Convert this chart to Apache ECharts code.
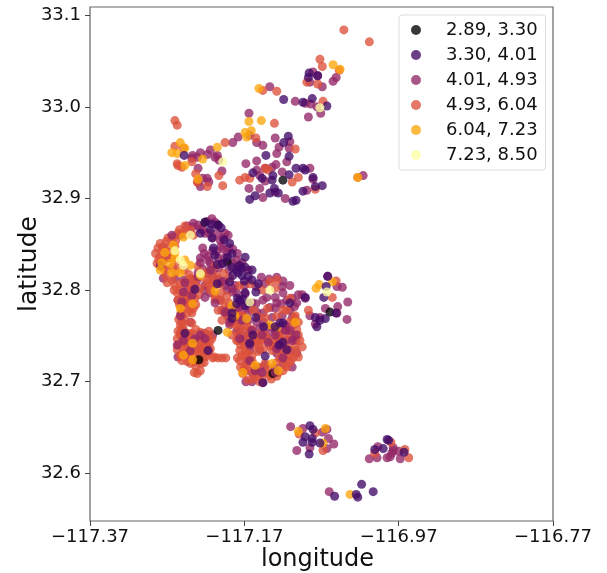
<!DOCTYPE html>
<html><head><meta charset="utf-8">
<script src="https://cdn.jsdelivr.net/npm/echarts@6/dist/echarts.min.js"></script>
<style>html,body{margin:0;padding:0;background:#fff}#c{width:607px;height:573px}</style></head>
<body><div id="c"></div>
<script>
const binLabels = ['2.89, 3.30','3.30, 4.01','4.01, 4.93','4.93, 6.04','6.04, 7.23','7.23, 8.50'];
const binColors = ['#000004','#420a68','#932667','#dd513a','#fca50a','#fcffa4'];
const binLayers = [4,7,2,3,6,8];
const xTicks = [-117.37,-117.17,-116.97,-116.77];
const yTicks = [32.6,32.7,32.8,32.9,33.0,33.1];

const bin0 = [[-117.221,32.874],[-117.204,32.871],[-117.192,32.831],[-117.059,32.776],[-117.204,32.756],[-117.133,32.709],[-117.229,32.724],[-117.120,32.920]];

const bin1 = [[-117.119,33.008],[-117.082,33.009],[-117.094,33.005],[-117.063,33.001],[-117.086,33.037],[-117.087,33.032],[-117.075,33.034],[-117.248,32.947],[-117.113,32.968],[-117.119,32.961],[-117.142,32.947],[-117.112,32.946],[-117.159,32.928],[-117.147,32.922],[-117.133,32.925],[-117.134,32.920],[-117.103,32.933],[-117.094,32.933],[-117.091,32.931],[-117.081,32.923],[-117.069,32.914],[-117.078,32.913],[-117.156,32.903],[-117.163,32.899],[-117.131,32.911],[-117.137,32.906],[-117.126,32.906],[-117.094,32.908],[-117.103,32.898],[-117.107,32.897],[-117.112,32.926],
[-117.085,32.652],[-117.091,32.640],[-117.094,32.634],[-117.082,32.638],[-117.082,32.634],[-117.086,32.621],[-117.072,32.633],[-117.081,32.648],[-116.985,32.637],[-116.983,32.636],[-117.001,32.626],[-116.990,32.627],[-116.963,32.623],[-117.018,32.588],[-117.053,32.575],[-117.025,32.577],[-117.023,32.574],[-117.003,32.580],
[-117.064,32.804],[-117.067,32.792],[-117.051,32.775],[-117.065,32.769],[-117.076,32.760],[-117.078,32.770],[-117.072,32.767],[-117.091,32.792],[-117.062,32.815],
[-117.204,32.871],[-117.214,32.866],[-117.227,32.862],[-117.212,32.857],[-117.221,32.874],[-117.189,32.851],[-117.208,32.838],[-117.192,32.836],[-117.198,32.829],[-117.186,32.825],[-117.176,32.827],[-117.169,32.825],[-117.178,32.819],[-117.173,32.816],[-117.185,32.816],[-117.189,32.809],[-117.160,32.811],[-117.152,32.807],[-117.205,32.807],[-117.234,32.801],[-117.247,32.753],[-117.179,32.791],[-117.176,32.789],[-117.169,32.797],[-117.169,32.783],[-117.186,32.775],[-117.111,32.786],[-117.120,32.764],[-117.124,32.764],[-117.120,32.743],[-117.159,32.751],[-117.143,32.728],[-117.146,32.699],[-117.217,32.734],[-117.186,32.769],[-117.163,32.742],
[-117.169,32.836],[-117.160,32.822],[-117.165,32.815],[-117.180,32.822],[-117.174,32.824],[-117.170,32.810],[-117.205,32.828],[-117.212,32.872],[-117.200,32.868],[-117.196,32.855],[-117.186,32.840],[-117.210,32.846],[-117.155,32.798],[-117.180,32.785],[-117.172,32.790],[-117.130,32.760],[-117.145,32.760],[-117.165,32.786],[-117.155,32.770],[-117.125,32.740],[-117.115,32.735]];

const bin2 = [[-117.137,33.022],[-117.104,33.006],[-117.091,33.004],[-117.084,33.003],[-117.076,33.000],[-117.071,32.993],[-117.087,32.989],[-117.081,33.038],[-117.069,33.022],[-117.051,33.032],[-117.055,33.028],[-117.075,33.034],[-117.085,33.027],[-117.164,32.993],[-117.185,32.961],[-117.178,32.967],[-117.163,32.969],[-117.154,32.961],[-117.146,32.958],[-117.130,32.966],[-117.111,32.962],[-117.125,32.956],[-117.112,32.955],[-117.128,32.949],[-117.237,32.947],[-117.231,32.945],[-117.227,32.950],[-117.238,32.944],[-117.214,32.953],[-117.218,32.948],[-117.205,32.947],[-117.203,32.942],[-117.208,32.945],[-117.230,32.933],[-117.199,32.930],[-117.224,32.922],[-117.218,32.922],[-117.216,32.918],[-117.227,32.913],[-117.230,32.918],[-117.168,32.938],[-117.154,32.941],[-117.154,32.931],[-117.143,32.933],[-117.134,32.934],[-117.129,32.937],[-117.150,32.925],[-117.143,32.919],[-117.115,32.940],[-117.121,32.929],[-117.085,32.933],[-117.081,32.921],[-117.164,32.911],[-117.150,32.911],[-117.146,32.901],[-117.130,32.907],[-117.117,32.900],[-117.016,32.925],[-117.089,32.909],
[-117.110,32.651],[-117.102,32.625],[-117.085,32.628],[-117.061,32.638],[-117.054,32.632],[-117.094,32.649],[-117.069,32.645],[-117.063,32.648],[-117.008,32.616],[-116.998,32.617],[-116.985,32.617],[-116.981,32.618],[-116.968,32.616],[-116.979,32.622],[-116.970,32.624],[-116.977,32.628],[-116.997,32.629],[-116.977,32.625],[-117.060,32.580],[-117.063,32.627],
[-117.036,32.787],[-117.037,32.768],[-117.049,32.782],[-117.043,32.803],[-117.050,32.804],[-117.065,32.780],[-117.085,32.772],[-117.078,32.763],[-117.072,32.770],[-117.062,32.815],[-117.050,32.775],
[-117.244,32.870],[-117.237,32.869],[-117.227,32.867],[-117.212,32.878],[-117.221,32.862],[-117.211,32.857],[-117.201,32.854],[-117.191,32.860],[-117.195,32.862],[-117.224,32.846],[-117.227,32.835],[-117.217,32.837],[-117.211,32.843],[-117.204,32.835],[-117.192,32.841],[-117.179,32.840],[-117.186,32.830],[-117.199,32.829],[-117.214,32.829],[-117.218,32.818],[-117.211,32.814],[-117.230,32.819],[-117.253,32.860],[-117.275,32.813],[-117.260,32.813],[-117.249,32.811],[-117.237,32.811],[-117.221,32.805],[-117.195,32.805],[-117.185,32.798],[-117.169,32.796],[-117.143,32.807],[-117.121,32.804],[-117.141,32.792],[-117.130,32.792],[-117.146,32.789],[-117.108,32.791],[-117.091,32.791],[-117.102,32.786],[-117.115,32.789],[-117.128,32.814],[-117.176,32.789],[-117.201,32.789],[-117.199,32.778],[-117.192,32.772],[-117.178,32.781],[-117.163,32.780],[-117.173,32.775],[-117.154,32.776],[-117.146,32.775],[-117.137,32.781],[-117.128,32.786],[-117.165,32.767],[-117.178,32.765],[-117.154,32.765],[-117.134,32.770],[-117.121,32.772],[-117.111,32.778],[-117.189,32.762],[-117.176,32.756],[-117.163,32.754],[-117.150,32.758],[-117.133,32.758],[-117.115,32.756],[-117.172,32.745],[-117.154,32.745],[-117.141,32.751],[-117.124,32.745],[-117.107,32.747],[-117.163,32.734],[-117.167,32.723],[-117.128,32.731],[-117.111,32.734],[-117.102,32.731],[-117.169,32.712],[-117.159,32.709],[-117.143,32.718],[-117.146,32.699],[-117.120,32.720],[-117.243,32.743],[-117.256,32.727],[-117.253,32.753],[-117.221,32.753],[-117.211,32.751],[-117.237,32.745],[-117.227,32.736],[-117.218,32.740],[-117.251,32.772],[-117.251,32.765],[-117.256,32.789],[-117.237,32.802],[-117.244,32.800],[-117.214,32.797],[-117.275,32.847],[-117.270,32.835],
[-117.236,32.873],[-117.230,32.871],[-117.218,32.875],[-117.208,32.874],[-117.224,32.866],[-117.215,32.862],[-117.205,32.862],[-117.198,32.857],[-117.190,32.846],[-117.200,32.848],[-117.222,32.840],[-117.216,32.832],[-117.206,32.842],[-117.198,32.845],[-117.185,32.845],[-117.196,32.835],[-117.180,32.833],[-117.173,32.830],[-117.165,32.822],[-117.190,32.822],[-117.178,32.826],[-117.203,32.824],[-117.210,32.822],[-117.224,32.823],[-117.232,32.810],[-117.204,32.812],[-117.196,32.810],[-117.182,32.805],[-117.170,32.805],[-117.155,32.804],[-117.148,32.814],[-117.138,32.812],[-117.120,32.810],[-117.111,32.805],[-117.120,32.797],[-117.100,32.795],[-117.095,32.795],[-117.180,32.797],[-117.192,32.800],[-117.160,32.786],[-117.155,32.785],[-117.130,32.780],[-117.122,32.785],[-117.105,32.782],[-117.190,32.780],[-117.172,32.783],[-117.165,32.775],[-117.145,32.765],[-117.140,32.760],[-117.130,32.755],[-117.108,32.770],[-117.180,32.755],[-117.170,32.750],[-117.160,32.752],[-117.150,32.735],[-117.126,32.750],[-117.115,32.745],[-117.103,32.745],[-117.118,32.730],[-117.132,32.738],[-117.108,32.716],[-117.130,32.715],[-117.160,32.700],[-117.150,32.715],[-117.168,32.700],[-117.240,32.765],[-117.245,32.790],[-117.222,32.800]];

const bin2Upper = [[-117.247,32.808],[-117.230,32.815],[-117.214,32.822],[-117.199,32.809],[-117.186,32.802],[-117.221,32.792],[-117.208,32.786],[-117.195,32.776],[-117.182,32.780],[-117.189,32.765],[-117.173,32.767],[-117.160,32.756],[-117.176,32.747],[-117.163,32.740],[-117.147,32.751],[-117.130,32.751],[-117.117,32.756],[-117.139,32.743],[-117.124,32.740],[-117.108,32.745],[-117.111,32.756],[-117.103,32.751],[-117.163,32.723],[-117.120,32.726],[-117.128,32.736],[-117.156,32.712],[-117.147,32.710],[-117.130,32.710],[-117.117,32.762],[-117.249,32.745],[-117.234,32.747],[-117.221,32.747],[-117.240,32.734],[-117.227,32.751],[-117.253,32.772],[-117.257,32.740],[-117.249,32.798],[-117.238,32.794],[-117.251,32.787],[-117.279,32.827],[-117.264,32.860],[-117.227,32.830]];

const bin3 = [[-117.041,33.084],[-117.008,33.071],[-117.072,33.052],[-117.069,33.044],[-117.047,33.040],[-117.089,33.027],[-117.075,33.025],[-117.146,33.018],[-117.128,33.017],[-117.068,33.006],[-117.260,32.985],[-117.257,32.980],[-117.131,32.982],[-117.195,32.961],[-117.155,32.966],[-117.104,32.954],[-117.260,32.957],[-117.249,32.955],[-117.238,32.940],[-117.256,32.936],[-117.251,32.934],[-117.257,32.938],[-117.233,32.927],[-117.203,32.925],[-117.198,32.914],[-117.176,32.920],[-117.169,32.923],[-117.163,32.922],[-117.143,32.933],[-117.139,32.931],[-117.100,32.923],[-117.108,32.918],[-117.078,32.910],[-117.023,32.923],[-117.231,32.918],[-117.218,32.913],
[-117.099,32.643],[-117.078,32.644],[-117.068,32.625],[-116.957,32.617],[-116.962,32.626],[-117.001,32.622],[-116.980,32.634],
[-117.051,32.810],[-117.056,32.792],[-117.087,32.778],
[-117.282,32.846],[-117.279,32.837],[-117.283,32.829],[-117.275,32.824],[-117.266,32.848],[-117.259,32.854],[-117.269,32.857],[-117.249,32.863],[-117.240,32.866],[-117.247,32.870],[-117.256,32.862],[-117.273,32.841],[-117.264,32.835],[-117.279,32.851],[-117.272,32.816],[-117.264,32.811],[-117.253,32.807],[-117.259,32.819],[-117.240,32.813],[-117.234,32.805],[-117.221,32.819],[-117.214,32.811],[-117.208,32.826],[-117.260,32.805],[-117.253,32.800],[-117.247,32.794],[-117.256,32.789],[-117.248,32.783],[-117.240,32.778],[-117.251,32.776],[-117.247,32.767],[-117.253,32.762],[-117.238,32.787],[-117.234,32.791],[-117.239,32.800],[-117.227,32.802],[-117.238,32.764],
[-117.253,32.751],[-117.247,32.754],[-117.238,32.753],[-117.227,32.754],[-117.218,32.751],[-117.256,32.740],[-117.247,32.743],[-117.238,32.745],[-117.227,32.743],[-117.220,32.740],[-117.214,32.736],[-117.253,32.729],[-117.247,32.732],[-117.237,32.734],[-117.227,32.732],[-117.220,32.729],[-117.251,32.723],[-117.240,32.726],[-117.230,32.723],[-117.222,32.721],[-117.233,32.717],[-117.227,32.712],[-117.231,32.709],[-117.235,32.710],
[-117.211,32.726],[-117.209,32.727],[-117.204,32.726],[-117.199,32.726],[-117.194,32.726],
[-117.208,32.794],[-117.201,32.789],[-117.195,32.783],[-117.204,32.778],[-117.191,32.772],[-117.186,32.767],[-117.199,32.767],[-117.182,32.762],[-117.176,32.772],[-117.169,32.762],[-117.178,32.751],
[-117.214,32.805],[-117.201,32.807],[-117.189,32.813],[-117.176,32.805],[-117.163,32.807],[-117.147,32.800],[-117.130,32.802],[-117.137,32.809],[-117.128,32.811],
[-117.186,32.751],[-117.178,32.745],[-117.170,32.740],[-117.160,32.745],[-117.152,32.740],[-117.143,32.751],[-117.134,32.743],[-117.124,32.751],[-117.115,32.756],[-117.106,32.762],[-117.100,32.751],[-117.104,32.740],[-117.117,32.734],[-117.111,32.729],[-117.103,32.734],[-117.126,32.734],[-117.134,32.734],[-117.167,32.731],[-117.176,32.734],[-117.179,32.726],
[-117.176,32.723],[-117.169,32.717],[-117.163,32.712],[-117.156,32.709],[-117.147,32.704],[-117.137,32.707],[-117.126,32.710],[-117.117,32.718],[-117.124,32.726],[-117.113,32.723],[-117.169,32.729],[-117.160,32.723],[-117.128,32.721],[-117.172,32.709],[-117.165,32.702],
[-117.104,32.772],[-117.115,32.778],[-117.111,32.791],[-117.143,32.720],[-117.152,32.716],[-117.137,32.715],
[-117.256,32.755],[-117.249,32.756],[-117.241,32.752],[-117.233,32.757],[-117.225,32.752],[-117.216,32.755],[-117.257,32.747],[-117.250,32.748],[-117.241,32.749],[-117.235,32.746],[-117.226,32.748],[-117.219,32.746],[-117.212,32.747],[-117.254,32.741],[-117.245,32.739],[-117.238,32.741],[-117.230,32.739],[-117.222,32.742],[-117.215,32.743],[-117.257,32.735],[-117.249,32.736],[-117.241,32.733],[-117.233,32.735],[-117.224,32.734],[-117.216,32.733],[-117.252,32.728],[-117.244,32.729],[-117.236,32.727],[-117.228,32.728],[-117.221,32.727],[-117.244,32.722],[-117.240,32.720],[-117.233,32.722],[-117.226,32.720],
[-117.257,32.797],[-117.250,32.795],[-117.243,32.792],[-117.237,32.795],[-117.229,32.795],[-117.254,32.784],[-117.246,32.786],[-117.241,32.784],[-117.233,32.784],[-117.252,32.775],[-117.244,32.775],[-117.255,32.768],[-117.249,32.762],[-117.251,32.758],[-117.236,32.780],[-117.238,32.775],
[-117.285,32.840],[-117.281,32.834],[-117.276,32.846],[-117.271,32.853],[-117.262,32.858],[-117.254,32.866],[-117.245,32.861],[-117.236,32.860],[-117.279,32.826],[-117.270,32.822],[-117.263,32.825],[-117.257,32.827],[-117.248,32.822],[-117.242,32.817],[-117.270,32.808],[-117.261,32.800],[-117.247,32.808],[-117.240,32.805],[-117.233,32.812],[-117.224,32.814],[-117.216,32.820],[-117.230,32.826],[-117.218,32.808],[-117.206,32.815],[-117.197,32.818],[-117.274,32.833],[-117.268,32.841],[-117.260,32.848],
[-117.214,32.800],[-117.207,32.806],[-117.208,32.790],[-117.200,32.797],[-117.193,32.793],[-117.196,32.776],[-117.190,32.786],[-117.183,32.778],[-117.187,32.764],[-117.177,32.760],[-117.170,32.755],[-117.166,32.760],[-117.172,32.772],[-117.160,32.757],[-117.180,32.770],[-117.156,32.750],[-117.150,32.752],[-117.148,32.745],
[-117.180,32.745],[-117.175,32.740],[-117.165,32.748],[-117.158,32.740],[-117.150,32.745],[-117.140,32.746],[-117.130,32.749],[-117.122,32.756],[-117.110,32.752],[-117.102,32.757],[-117.098,32.745],[-117.095,32.738],[-117.100,32.727],[-117.107,32.726],[-117.114,32.737],[-117.121,32.740],[-117.128,32.742],[-117.137,32.740],[-117.145,32.736],[-117.152,32.733],[-117.160,32.729],[-117.168,32.735],[-117.173,32.729],[-117.165,32.722],[-117.170,32.714],[-117.175,32.716],[-117.158,32.716],[-117.152,32.706],[-117.158,32.703],[-117.150,32.700],[-117.142,32.710],[-117.135,32.703],[-117.128,32.706],[-117.120,32.712],[-117.122,32.725],[-117.115,32.716],[-117.110,32.722],[-117.116,32.747],[-117.126,32.752],[-117.105,32.770],[-117.112,32.765],[-117.100,32.765],[-117.120,32.778],[-117.128,32.771],[-117.143,32.770],[-117.152,32.771],[-117.158,32.778],[-117.140,32.780]];

const bin4 = [[-117.151,33.020],[-117.055,33.046],[-117.046,33.041],[-117.164,32.984],[-117.148,32.985],[-117.169,32.972],[-117.161,32.974],[-117.167,32.967],[-117.253,32.961],[-117.264,32.950],[-117.257,32.949],[-117.247,32.955],[-117.205,32.956],[-117.224,32.943],[-117.247,32.936],[-117.230,32.921],[-117.023,32.923],
[-117.100,32.646],[-117.065,32.649],[-117.068,32.633],[-117.033,32.577],
[-117.077,32.802],[-117.073,32.806],[-117.056,32.809],
[-117.273,32.841],[-117.262,32.849],[-117.260,32.835],[-117.277,32.830],[-117.266,32.829],[-117.279,32.822],[-117.240,32.827],[-117.247,32.833],[-117.253,32.819],[-117.264,32.819],[-117.227,32.816],[-117.249,32.858],[-117.260,32.841],[-117.253,32.780],[-117.237,32.785],[-117.208,32.799],[-117.186,32.783],[-117.167,32.769],[-117.182,32.772],[-117.192,32.754],[-117.137,32.762],[-117.128,32.760],[-117.104,32.765],[-117.237,32.742],[-117.249,32.729],[-117.237,32.724],[-117.156,32.718],[-117.126,32.712],[-117.172,32.710],[-117.134,32.720]];

const bin5 = [[-117.198,32.940],[-117.072,32.999],[-117.063,32.798],[-117.240,32.860],[-117.260,32.843],[-117.253,32.833],[-117.249,32.827],[-117.227,32.818],[-117.163,32.787],[-117.137,32.800]];

const bins = [bin0, bin1, bin2, bin3, bin4, bin5];

const fmt = v => v.toFixed(2).replace('-', '\u2212');
const markStyle = i => ({ color: binColors[i], opacity: 0.78 });

const series = binLabels.map((name, i) => ({
  name, type: 'scatter', symbolSize: 9,
  data: bins[i],
  z: binLayers[i],
  itemStyle: markStyle(i),
  emphasis: { disabled: true }
}));
series.push({
  name: binLabels[2], type: 'scatter', symbolSize: 9,
  data: bin2Upper, z: 5, itemStyle: markStyle(2), emphasis: { disabled: true }
});

const chart = echarts.init(document.getElementById('c'), null, {renderer:'canvas'});
chart.setOption({
  animation: false,
  backgroundColor: '#fff',
  textStyle: { fontFamily: 'DejaVu Sans' },
  grid: { left: 90, right: 54, top: 7, bottom: 52, show: true, borderColor: '#666', borderWidth: 1.2, backgroundColor: 'transparent', outerBoundsMode: 'none' },
  xAxis: {
    type: 'value', min: -117.37, max: -116.77, name: 'longitude', nameLocation: 'middle', nameGap: 27, nameMoveOverlap: false,
    nameTextStyle: { fontSize: 24, color: '#111', fontFamily: 'DejaVu Sans', padding: [0, 8, 0, 0] },
    splitLine: { show: false }, axisLine: { show: false },
    axisTick: { show: true, length: 5, customValues: xTicks, lineStyle: { color: '#444', width: 1 } },
    axisLabel: { customValues: xTicks, formatter: fmt, fontSize: 18, color: '#111', margin: 7, showMinLabel: true, showMaxLabel: true, hideOverlap: false }
  },
  yAxis: {
    type: 'value', min: 32.548, max: 33.109, name: 'latitude', nameLocation: 'middle', nameGap: 48, nameMoveOverlap: false,
    nameTextStyle: { fontSize: 25, color: '#111', fontFamily: 'DejaVu Sans' },
    splitLine: { show: false }, axisLine: { show: false },
    axisTick: { show: true, length: 5, customValues: yTicks, lineStyle: { color: '#444', width: 1 } },
    axisLabel: { customValues: yTicks, formatter: v => v.toFixed(1), fontSize: 18, color: '#111', margin: 9 }
  },
  legend: {
    orient: 'vertical', left: 399, top: 15, width: 146,
    backgroundColor: 'rgba(255,255,255,0.8)', borderColor: '#ddd', borderWidth: 1, borderRadius: 3,
    padding: [6, 8, 6, 12],
    icon: 'circle', itemWidth: 24, itemHeight: 10, itemGap: 7,
    data: binLabels,
    textStyle: { fontSize: 18, color: '#111', fontFamily: 'DejaVu Sans', lineHeight: 17.5, padding: [0, 0, 0, 13] }
  },
  series
});
</script></body></html>
